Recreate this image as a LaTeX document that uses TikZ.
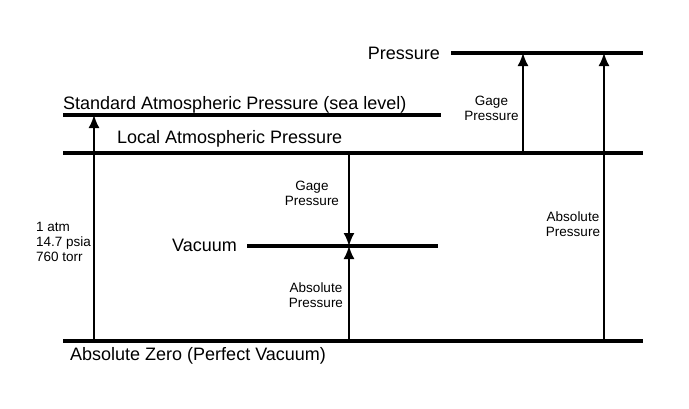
\documentclass[tikz,border=0pt]{standalone}
\usepackage{fontspec}
\setmainfont{Liberation Sans}
\usetikzlibrary{arrows.meta}
\tikzset{
  level/.style={line width=3.4pt},
  arr/.style={-{Latex[length=13pt,width=11pt]}, line width=1.8pt},
  big/.style={inner sep=0pt, font=\fontsize{18}{20}\selectfont},
  small/.style={inner sep=0pt, align=center, font=\fontsize{13.5}{15}\selectfont}
}
\begin{document}
\begin{tikzpicture}[x=1pt,y=-1pt]
\useasboundingbox (0,0) rectangle (689,408);
\foreach \n/\xa/\xb/\y in {p/451/643/53, std/63/441/115, loc/63/643/153, vac/247/438/246, zero/63/643/341}
{
  \coordinate (\n-l) at (\xa,\y);
  \coordinate (\n-r) at (\xb,\y);
  \draw[level] (\n-l) -- (\n-r);
}
\coordinate (x-atm) at (94,0);
\coordinate (x-vac) at (349,0);
\coordinate (x-gage) at (523,0);
\coordinate (x-abs) at (604,0);
\node[big, anchor=east] (pressure) at (440,53) {Pressure};
\node[big, anchor=base west] (std) at (63,109) {Standard Atmospheric Pressure (sea level)};
\node[big, anchor=base west] (local) at (117,143.5) {Local Atmospheric Pressure};
\node[big, anchor=base east] (vacuum) at (237,251.5) {Vacuum};
\node[big, anchor=base west] (zero) at (70,360) {Absolute Zero (Perfect Vacuum)};
\node[small, align=left, anchor=west] (atm) at (36,242) {1 atm\\14.7 psia\\760 torr};
\node[small] (gage-vac) at (312,193) {Gage\\Pressure};
\node[small] (abs-vac) at (316,295) {Absolute\\Pressure};
\node[small] (gage-p) at (491.5,108) {Gage\\Pressure};
\node[small] (abs-p) at (573,224) {Absolute\\Pressure};
\draw[arr] (x-atm |- zero-l) -- (x-atm |- std-l);
\draw[arr] (x-vac |- loc-l) -- (x-vac |- vac-l);
\draw[arr] (x-vac |- zero-l) -- (x-vac |- vac-l);
\draw[arr] (x-gage |- loc-l) -- (x-gage |- p-l);
\draw[arr] (x-abs |- zero-l) -- (x-abs |- p-l);
\end{tikzpicture}
\end{document}
